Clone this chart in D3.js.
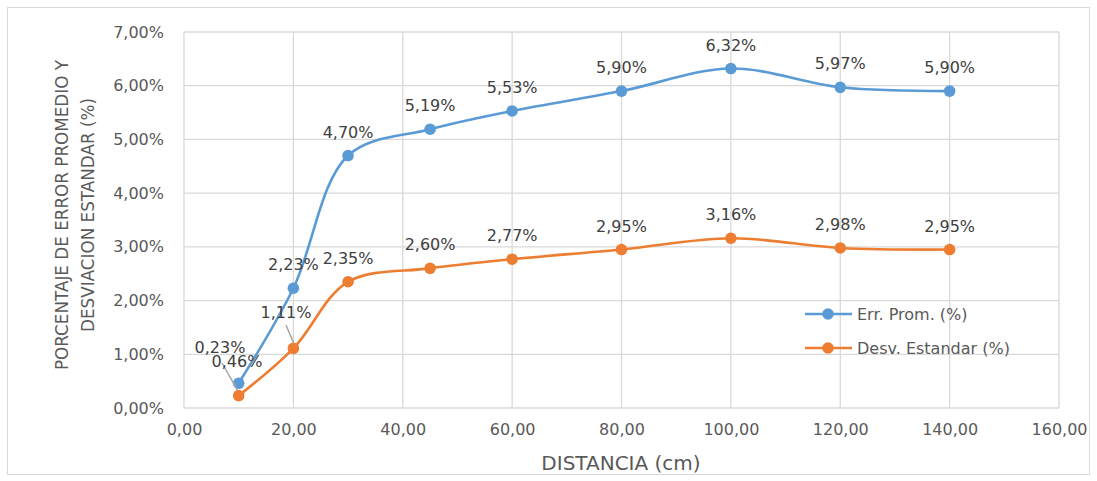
<!DOCTYPE html>
<html><head><meta charset="utf-8">
<script src="https://cdn.jsdelivr.net/npm/d3@7"></script>
<style>body{margin:0;background:#fff}svg text{font-family:"DejaVu Sans",sans-serif}</style>
</head><body><svg id="c" width="1097" height="481"></svg>
<script>
const distances = [10, 20, 30, 45, 60, 80, 100, 120, 140];
const errProm = [0.46, 2.23, 4.70, 5.19, 5.53, 5.90, 6.32, 5.97, 5.90];
const desvEst = [0.23, 1.11, 2.35, 2.60, 2.77, 2.95, 3.16, 2.98, 2.95];
const seriesNames = ["Err. Prom. (%)", "Desv. Estandar (%)"];
const xTicks = [0, 20, 40, 60, 80, 100, 120, 140, 160];
const yTicks = [0, 1, 2, 3, 4, 5, 6, 7];

const svg = d3.select("#c");
const fmt = v => v.toFixed(2).replace(".", ",");
const x = d3.scaleLinear().domain([0, 160]).range([184, 1059]);
const y = d3.scaleLinear().domain([0, 7]).range([408, 32]);
const grey = "#595959", grid = "#d9d9d9";
const colors = ["#5b9bd5", "#ed7d31"];

svg.append("rect").attr("x", 7.5).attr("y", 7.5).attr("width", 1082).attr("height", 467)
  .attr("fill", "none").attr("stroke", "#d9d9d9");

// grid
svg.append("g").selectAll("line").data(yTicks).join("line")
  .attr("x1", x(0)).attr("x2", x(160)).attr("y1", d => y(d)).attr("y2", d => y(d))
  .attr("stroke", grid).attr("stroke-width", 1.3);
svg.append("g").selectAll("line").data(xTicks).join("line")
  .attr("y1", y(0)).attr("y2", y(7)).attr("x1", d => x(d)).attr("x2", d => x(d))
  .attr("stroke", grid).attr("stroke-width", 1.3);

// axes
const ya = d3.axisLeft(y).tickValues(yTicks).tickSize(0).tickPadding(20).tickFormat(d => fmt(d) + "%");
const gy = svg.append("g").attr("transform", `translate(${x(0)},0)`).call(ya);
gy.select(".domain").remove();
gy.selectAll("text").attr("fill", grey).attr("font-size", 16).attr("font-family", "DejaVu Sans");
const xa = d3.axisBottom(x).tickValues(xTicks).tickSize(0).tickPadding(16).tickFormat(fmt);
const gx = svg.append("g").attr("transform", `translate(0,${y(0)})`).call(xa);
gx.select(".domain").remove();
gx.selectAll("text").attr("fill", grey).attr("font-size", 16).attr("font-family", "DejaVu Sans");

svg.append("text").attr("x", 621).attr("y", 470).attr("text-anchor", "middle")
  .attr("font-family", "Open Sans").attr("fill", grey).attr("font-size", 20).text("DISTANCIA (cm)");
const yt = svg.append("text").attr("transform", "translate(68,215) rotate(-90)")
  .attr("text-anchor", "middle").attr("fill", grey).attr("font-size", 16.8).attr("font-family", "Open Sans");
yt.append("tspan").attr("x", 0).attr("dy", 0).text("PORCENTAJE DE ERROR PROMEDIO Y");
yt.append("tspan").attr("x", 0).attr("dy", 26).text("DESVIACION ESTANDAR (%)");

const line = d3.line().x(d => x(d[0])).y(d => y(d[1])).curve(d3.curveCatmullRom.alpha(0.5));
[errProm, desvEst].forEach((vals, i) => {
  const pts = distances.map((d, j) => [d, vals[j]]);
  svg.append("path").attr("d", line(pts)).attr("fill", "none").attr("stroke", colors[i]).attr("stroke-width", 2.6);
  svg.append("g").selectAll("circle").data(pts).join("circle")
    .attr("cx", d => x(d[0])).attr("cy", d => y(d[1])).attr("r", 5.8).attr("fill", colors[i]);
});

// leader lines for displaced labels
[[222, 363, x(10) - 1, y(0.23) - 5], [286, 325, x(20), y(1.11) - 6]].forEach(l =>
  svg.append("line").attr("x1", l[0]).attr("y1", l[1]).attr("x2", l[2]).attr("y2", l[3])
    .attr("stroke", "#a6a6a6").attr("stroke-width", 1.5));

// labels
const labelPos = (i, j) => {
  const px = x(distances[j]), py = y(i === 0 ? errProm[j] : desvEst[j]);
  if (i === 0 && j === 0) return [237, 367];
  if (i === 1 && j === 0) return [220, 353];
  if (i === 1 && j === 1) return [286, 318];
  return [px, py - 18];
};
[errProm, desvEst].forEach((vals, i) => {
  vals.forEach((v, j) => {
    const p = labelPos(i, j);
    svg.append("text").attr("x", p[0]).attr("y", p[1]).attr("text-anchor", "middle")
      .attr("fill", "#404040").attr("font-size", 16).text(fmt(v) + "%");
  });
});

// legend
seriesNames.forEach((n, i) => {
  const ly = 314 + i * 34;
  svg.append("line").attr("x1", 805).attr("x2", 852).attr("y1", ly).attr("y2", ly)
    .attr("stroke", colors[i]).attr("stroke-width", 2.6);
  svg.append("circle").attr("cx", 828).attr("cy", ly).attr("r", 5.8).attr("fill", colors[i]);
  svg.append("text").attr("x", 857).attr("y", ly + 6).attr("fill", grey).attr("font-size", 16).text(n);
});
</script></body></html>
